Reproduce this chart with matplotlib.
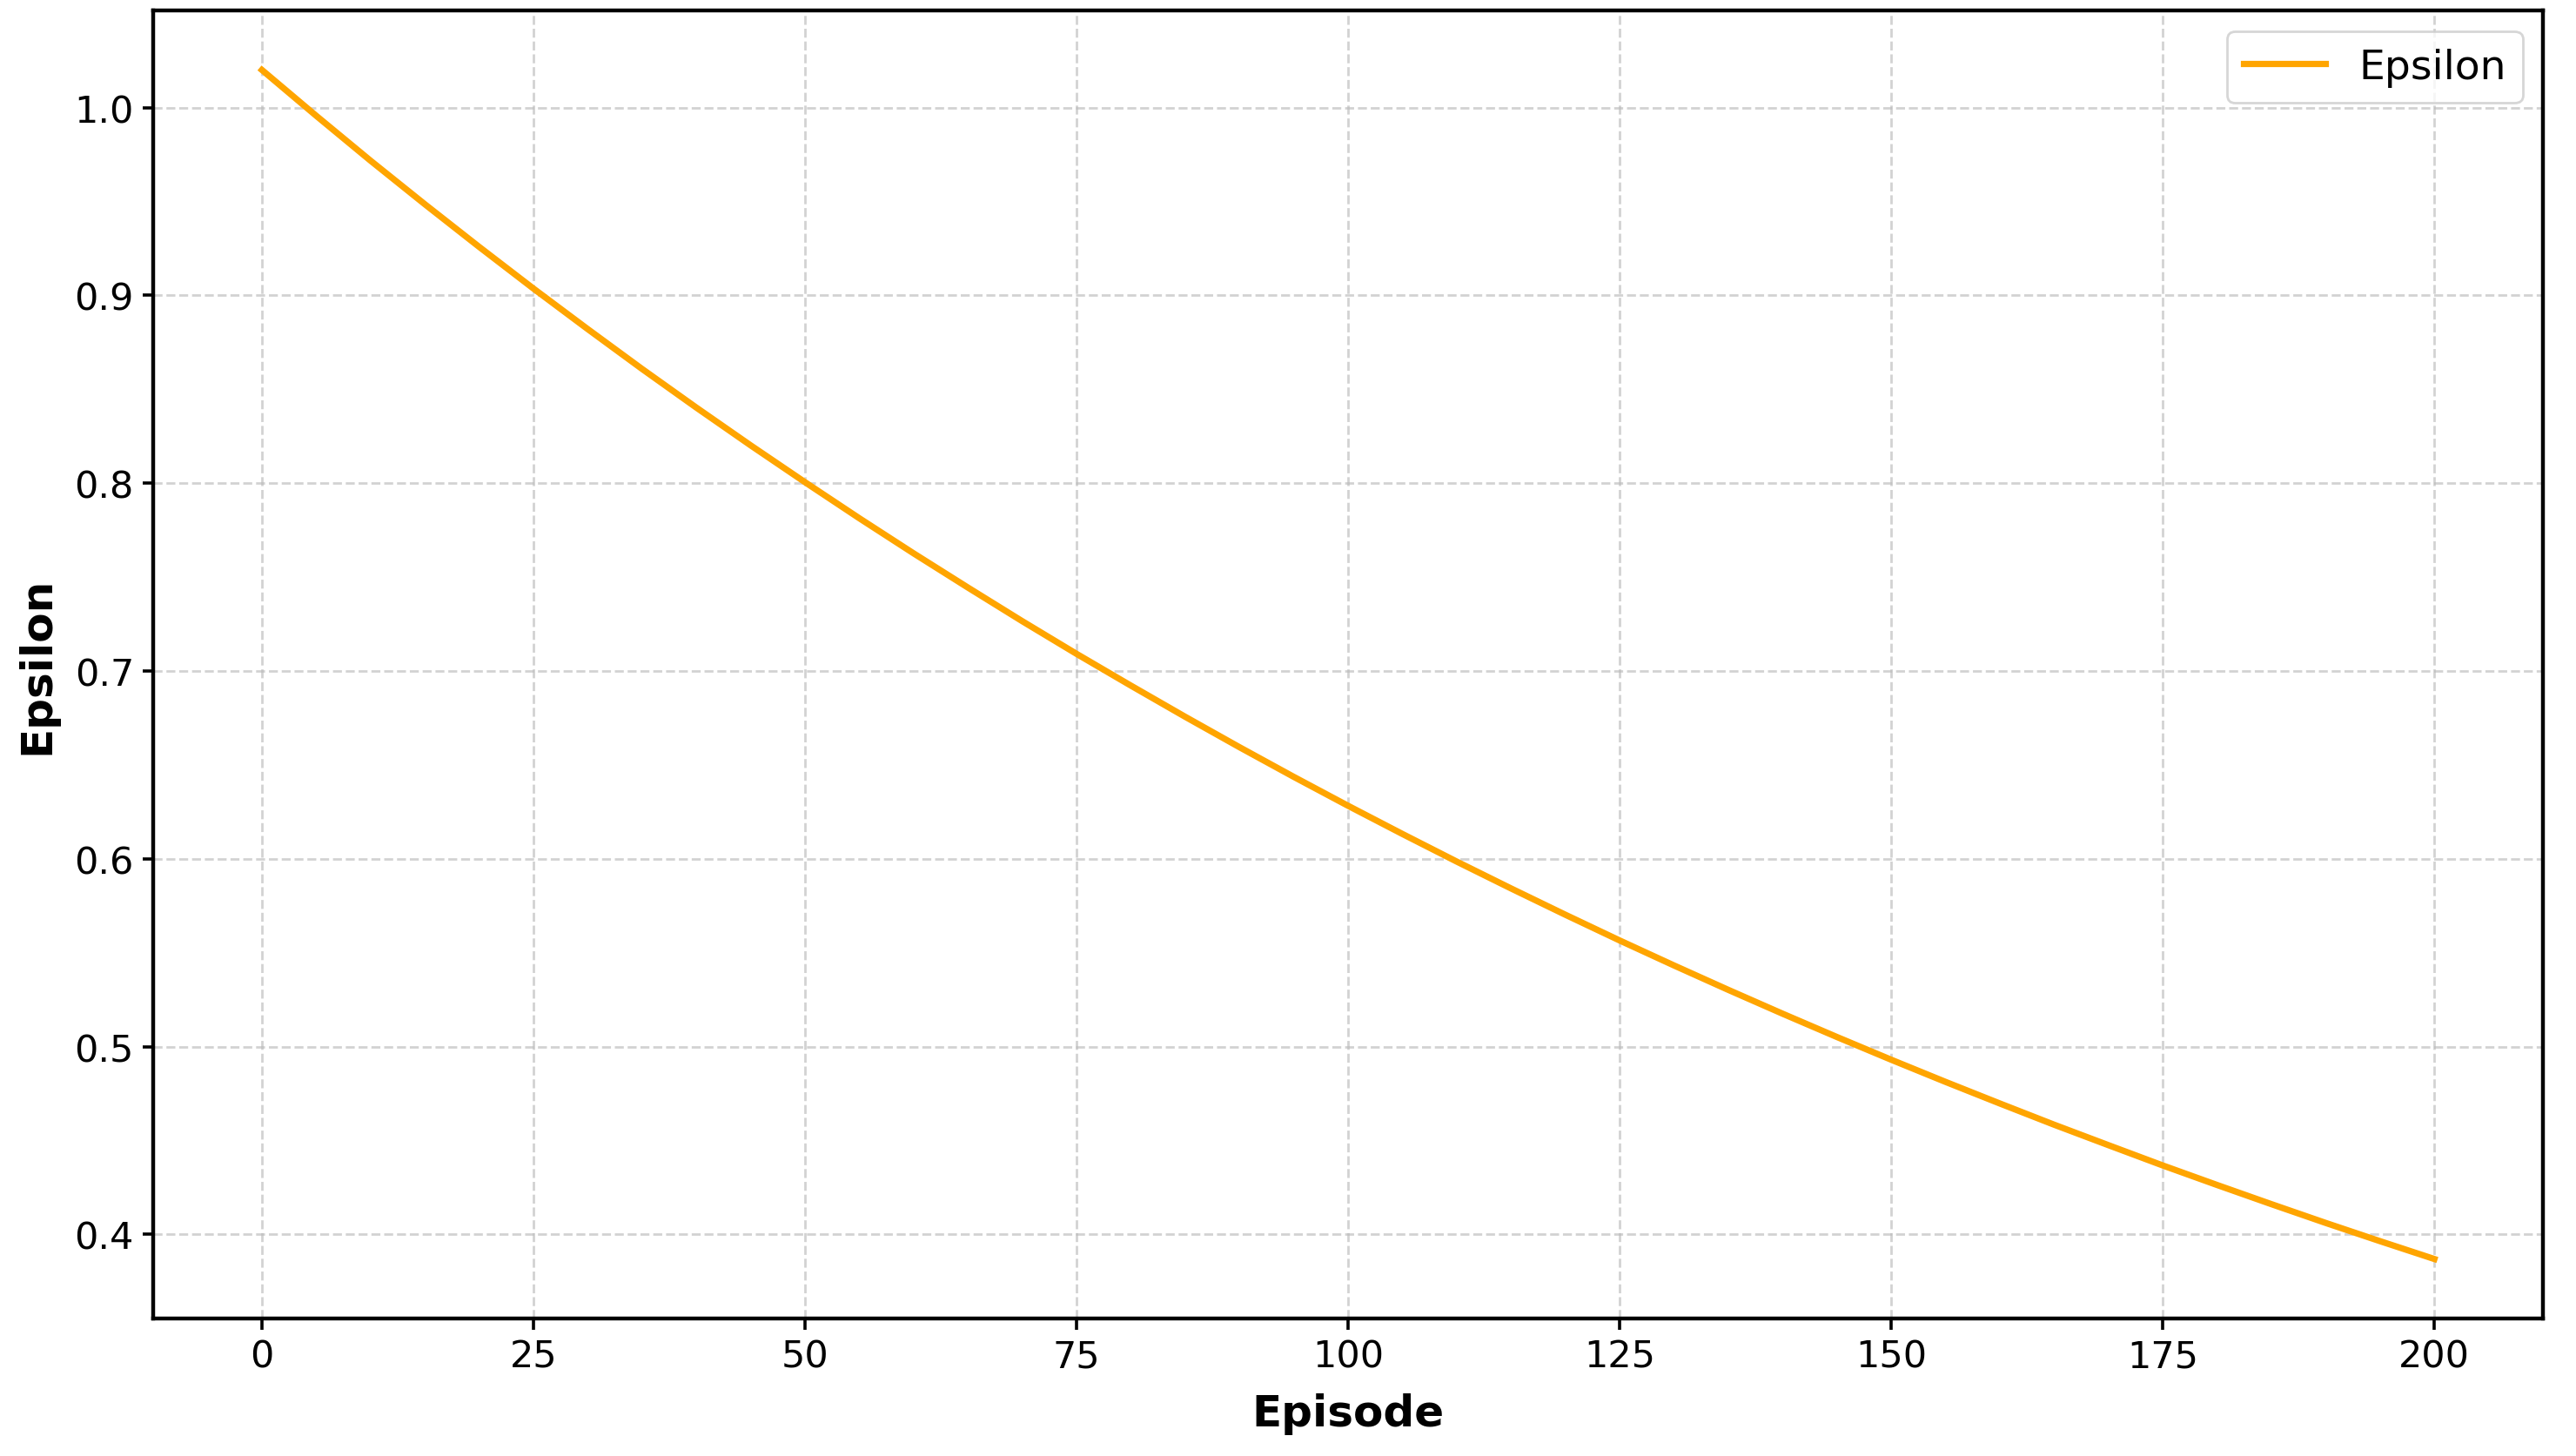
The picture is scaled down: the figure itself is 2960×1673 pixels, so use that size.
import matplotlib
matplotlib.use('Agg')
import matplotlib.pyplot as plt

# epsilon every 5 episodes
episodes = list(range(0, 201, 5))
epsilon = [1.020, 0.9956, 0.9717, 0.9485, 0.9258, 0.9036, 0.8820, 0.8608,
           0.8402, 0.8201, 0.8005, 0.7813, 0.7626, 0.7444, 0.7265, 0.7091,
           0.6922, 0.6756, 0.6594, 0.6436, 0.6282, 0.6132, 0.5985, 0.5842,
           0.5702, 0.5565, 0.5432, 0.5302, 0.5175, 0.5051, 0.4930, 0.4812,
           0.4697, 0.4584, 0.4475, 0.4367, 0.4263, 0.4161, 0.4061, 0.3964,
           0.3869]
x_ticks = [0, 25, 50, 75, 100, 125, 150, 175, 200]
y_ticks = [0.4, 0.5, 0.6, 0.7, 0.8, 0.9, 1.0]

fig, ax = plt.subplots(figsize=(14.8, 8.37), dpi=200)
fig.subplots_adjust(left=0.0595, right=0.9872, top=0.9922, bottom=0.0944)

ax.plot(episodes, epsilon, color='orange', linewidth=2.6, label='Epsilon')
ax.set_xticks(x_ticks)
ax.set_yticks(y_ticks)
ax.set_xlabel('Episode', fontsize=18, fontweight='bold', labelpad=7.5)
ax.set_ylabel('Epsilon', fontsize=18, fontweight='bold', labelpad=7)
ax.tick_params(labelsize=15.5, length=4.5, width=1.3)
for s in ax.spines.values():
    s.set_linewidth(1.6)
ax.grid(True, linestyle='--', color='#bbbbbb', alpha=0.65, linewidth=1.0)
ax.legend(loc='upper right', fontsize=17)

fig.savefig('out.png', dpi=200)
